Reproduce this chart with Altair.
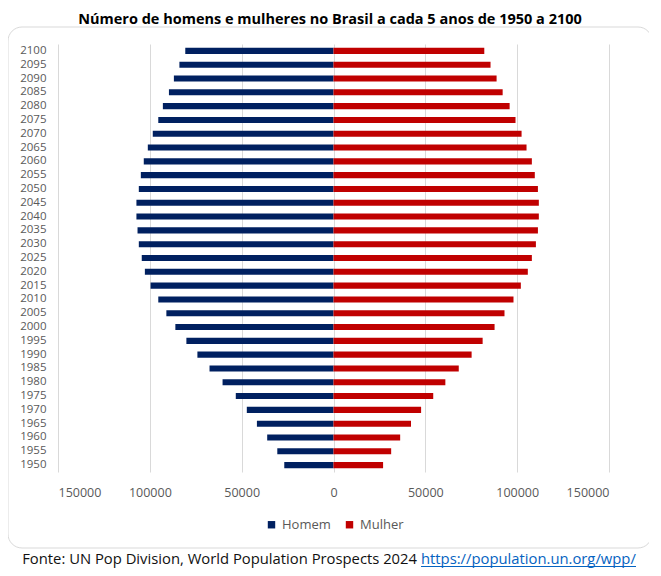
import altair as alt
import pandas as pd

anos = [1950, 1955, 1960, 1965, 1970, 1975, 1980, 1985, 1990, 1995, 2000,
        2005, 2010, 2015, 2020, 2025, 2030, 2035, 2040, 2045, 2050, 2055,
        2060, 2065, 2070, 2075, 2080, 2085, 2090, 2095, 2100]
homem = [26800, 30600, 36100, 41700, 47200, 53200, 60400, 67500, 74100, 80100,
         86100, 91000, 95400, 99600, 102700, 104400, 106000, 106700, 107300,
         107300, 106000, 104900, 103300, 101100, 98400, 95400, 92900, 89600,
         86900, 83900, 80700]
mulher = [27000, 31400, 36300, 42200, 47700, 54300, 60900, 68200, 75200, 81200,
          87700, 93100, 98000, 102000, 105800, 108000, 110200, 111300, 111800,
          111800, 111300, 109600, 108000, 105100, 102400, 99100, 95900, 92100,
          88800, 85500, 82100]
series = ["Homem", "Mulher"]
cores = ["#002060", "#C00000"]
ticks_x = [-150000, -100000, -50000, 0, 50000, 100000, 150000]

titulo = "Número de homens e mulheres no Brasil a cada 5 anos de 1950 a 2100"
fonte_txt = "Fonte: UN Pop Division, World Population Prospects 2024"
fonte_url = "https://population.un.org/wpp/"

rows = []
for a, h, m in zip(anos, homem, mulher):
    rows.append({"ano": str(a), "sexo": "Homem", "valor": -h})
    rows.append({"ano": str(a), "sexo": "Mulher", "valor": m})
df = pd.DataFrame(rows)

FONT = "Open Sans"
W, H = 551, 428

bars = alt.Chart(df).mark_bar().encode(
    y=alt.Y("ano:O", sort="descending", title=None,
            scale=alt.Scale(paddingInner=0.56, paddingOuter=0.28),
            axis=alt.Axis(domain=False, ticks=False, labelPadding=12,
                          labelFont=FONT, labelFontSize=11.5,
                          labelColor="#595959", grid=False)),
    x=alt.X("valor:Q", title=None,
            scale=alt.Scale(domain=[-150000, 150000], nice=False),
            axis=alt.Axis(values=ticks_x, labelExpr="format(abs(datum.value), 'd')",
                          domain=False, ticks=False, labelPadding=14,
                          labelFont=FONT, labelFontSize=12.5,
                          labelColor="#595959", grid=True,
                          gridColor="#d9d9d9", gridWidth=1)),
    color=alt.Color("sexo:N", title=None,
                    scale=alt.Scale(domain=series, range=cores),
                    legend=alt.Legend(orient="none", legendX=207, legendY=474,
                                      direction="horizontal", symbolType="square",
                                      symbolSize=55, symbolStrokeWidth=0,
                                      labelFont=FONT, labelFontSize=13,
                                      labelColor="#595959", labelOffset=4,
                                      columnPadding=12, padding=0)),
)

one = pd.DataFrame({"t": [""]})

border = alt.Chart(one).mark_rect(
    color="white", fillOpacity=0, stroke="#d9d9d9", strokeWidth=1, cornerRadius=14
).encode(x=alt.value(-50), x2=alt.value(594), y=alt.value(-17), y2=alt.value(504))

title = alt.Chart(pd.DataFrame({"t": [titulo]})).mark_text(
    align="center", baseline="alphabetic", font=FONT, fontSize=14.5,
    fontWeight="bold", color="#000000"
).encode(text="t:N", x=alt.value(272), y=alt.value(-20))

foot1 = alt.Chart(pd.DataFrame({"t": [fonte_txt]})).mark_text(
    align="right", baseline="alphabetic", font=FONT, fontSize=14.8, color="#111111"
).encode(text="t:N", x=alt.value(359), y=alt.value(520))

foot2 = alt.Chart(pd.DataFrame({"t": [fonte_url]})).mark_text(
    align="left", baseline="alphabetic", font=FONT, fontSize=14.8, color="#0563C1"
).encode(text="t:N", x=alt.value(363), y=alt.value(520))

underline = alt.Chart(one).mark_rule(color="#0563C1", strokeWidth=1).encode(
    x=alt.value(363), x2=alt.value(578), y=alt.value(522.5))

chart = alt.layer(border, bars, title, foot1, foot2, underline).properties(
    width=W, height=H,
    autosize=alt.AutoSizeParams(type="none"),
    padding={"left": 50, "top": 36, "right": 40, "bottom": 96},
).configure_view(stroke=None)

chart.save("out.html", embed_options={"renderer": "svg", "actions": False})
